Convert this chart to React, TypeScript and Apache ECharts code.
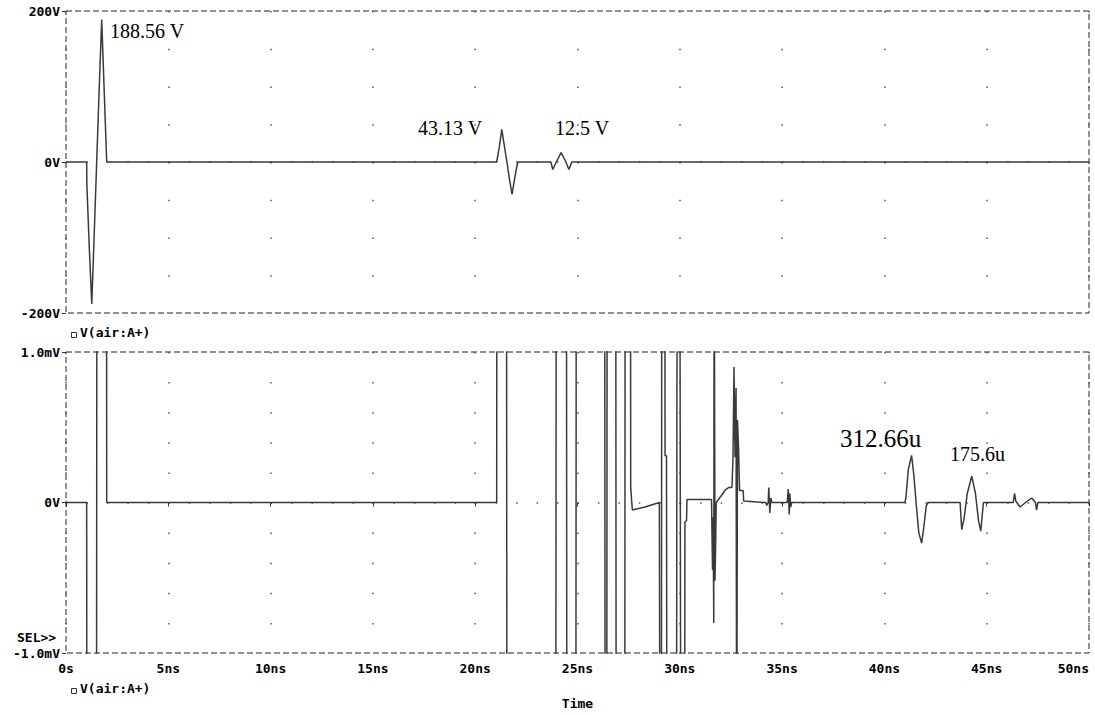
import React, { useEffect, useRef } from 'react';
import * as echarts from 'echarts';

// ---------- data ----------
// Upper plot: V(air:A+) in volts
const topTimeNs = [0, 1.01, 1.02, 1.14, 1.26, 1.38, 1.5, 1.62, 1.745, 1.87, 1.99,
  21.05, 21.18, 21.3, 21.42, 21.55, 21.67, 21.8, 21.94, 22.08,
  23.7, 23.79, 24.0, 24.2, 24.4, 24.58, 24.72, 50];
const topVolts = [0, 0, -30, -115, -188, -95, 0, 95, 188.56, 92, 0,
  0, 20, 43.13, 22, 0, -22, -43, -20, 0,
  0, -10, 2, 12.5, 2, -10, 0, 0];

// Lower plot: V(air:A+) in millivolts (values beyond +-1 mV run off the plot)
const bottomTimeNs = [0, 1.01, 1.02, 1.49, 1.51, 1.98, 1.99,
  21.05, 21.06, 21.53, 21.55, 23.94, 23.96, 24.46, 24.48, 24.92, 24.94,
  26.33, 26.35, 26.43, 26.45, 26.87, 26.89, 27.31, 27.33, 27.59, 27.6, 27.68, 28.3, 29.0,
  29.03, 29.1, 29.12, 29.27, 29.28, 29.35, 29.37, 29.84, 29.86, 29.9, 30.0, 30.05,
  30.24, 30.25, 30.33, 30.35, 31.55, 31.6, 31.63, 31.66, 31.68, 31.72, 31.75, 31.78,
  32.0, 32.2, 32.4, 32.55, 32.6, 32.65, 32.7, 32.75, 32.78, 32.82, 32.87, 32.92, 33.1, 33.12,
  34.2, 34.25, 34.32, 34.35, 34.4, 34.45, 34.5,
  35.25, 35.3, 35.35, 35.38, 35.42, 35.47,
  41.0, 41.05, 41.17, 41.33, 41.44, 41.55, 41.68, 41.82, 41.92, 42.05, 42.14,
  43.7, 43.78, 43.9, 44.05, 44.27, 44.45, 44.6, 44.71, 44.84,
  46.3, 46.36, 46.42, 46.63, 46.9, 47.2, 47.38, 47.44, 47.5, 50];
const bottomMilliVolts = [0, 0, -2, -2, 2, 2, 0,
  0, 2, 2, -2, -2, 2, 2, -2, -2, 2,
  2, -2, -2, 2, 2, -2, -2, 2, 2, 0.1, -0.05, -0.03, 0.0,
  -2, -2, 2, 2, 0.31, 0.31, -2, -2, 0.8, 2, 2, -2,
  -2, -0.13, -0.12, 0.02, 0.02, -0.45, -0.1, -0.8, 2, -0.52, -0.3, 0.0,
  0.04, 0.08, 0.1, 0.1, 0.3, 0.9, 0.3, 0.76, -2, 0.55, 0.37, 0.08, 0.08, 0.01,
  0.0, -0.02, 0.0, 0.1, -0.07, 0.03, 0.0,
  0.0, 0.09, -0.08, 0.06, -0.03, 0.0,
  0, 0.03, 0.22, 0.3127, 0.18, 0.0, -0.2, -0.27, -0.17, -0.02, 0,
  0, -0.18, -0.1, 0.06, 0.1756, 0.06, -0.12, -0.19, 0,
  0, 0.06, 0.01, -0.03, 0.0, 0.03, 0.0, -0.05, 0, 0];

const timeTickLabels = ['0s', '5ns', '10ns', '15ns', '20ns', '25ns', '30ns', '35ns', '40ns', '45ns', '50ns'];
const topTickLabels = ['-200V', '0V', '200V'];
const bottomTickLabels = ['-1.0mV', '0V', '1.0mV'];
const traceName = 'V(air:A+)';
const annotations = ['188.56 V', '43.13 V', '12.5 V', '312.66u', '175.6u'];

const MONO = "'DejaVu Sans Mono', monospace";
const SERIF = "'Liberation Serif', 'Times New Roman', serif";
const monoText = { fontFamily: MONO, fontWeight: 'bold' as const, fontSize: 13, color: '#000' };

export default function App() {
  const ref = useRef<HTMLDivElement>(null);
  useEffect(() => {
    if (!ref.current) return;
    const chart = echarts.init(ref.current, undefined, { renderer: 'svg' });
    const topData = topTimeNs.map((t, i) => [t, topVolts[i]]);
    const bottomData = bottomTimeNs.map((t, i) => [t, bottomMilliVolts[i]]);
    const gridCommon = {
      left: 66, width: 1023, show: true, borderColor: '#222', borderWidth: 1, borderType: [6, 3],
      backgroundColor: 'transparent', containLabel: false, outerBoundsMode: 'none',
    };
    const dotColor = '#555';
    const xAxisBase = {
      type: 'value', min: 0, max: 50, interval: 5,
      axisLine: { show: false },
    };
    const option: any = {
      animation: false,
      backgroundColor: '#fff',
      grid: [
        { ...gridCommon, top: 11, height: 302 },
        { ...gridCommon, top: 352, height: 301 },
      ],
      xAxis: [
        {
          ...xAxisBase, gridIndex: 0,
          axisTick: { show: false }, axisLabel: { show: false },
          splitLine: { show: true, lineStyle: { color: dotColor, width: 1.5, type: [1.5, 36.25] } },
        },
        {
          ...xAxisBase, gridIndex: 1,
          axisTick: { show: true, length: 4, lineStyle: { color: '#333' } },
          axisLabel: {
            ...monoText, margin: 9, alignMaxLabel: 'right',
            formatter: (v: number) => timeTickLabels[Math.round(v / 5)],
          },
          splitLine: { show: true, lineStyle: { color: dotColor, width: 1.5, type: [1.5, 28.6] } },
          name: 'Time', nameLocation: 'middle', nameGap: 44,
          nameTextStyle: { ...monoText },
        },
      ],
      yAxis: [
        {
          type: 'value', gridIndex: 0, min: -200, max: 200, interval: 200,
          axisLine: { show: false },
          axisTick: { show: true, length: 4, lineStyle: { color: '#333' } },
          axisLabel: { ...monoText, margin: 6, formatter: (v: number) => topTickLabels[Math.round(v / 200) + 1] },
          splitLine: { show: false },
        },
        {
          type: 'value', gridIndex: 1, min: -1, max: 1, interval: 1,
          axisLine: { show: false },
          axisTick: { show: true, length: 4, lineStyle: { color: '#333' } },
          axisLabel: { ...monoText, margin: 6, formatter: (v: number) => bottomTickLabels[Math.round(v) + 1] },
          splitLine: { show: false },
        },
      ],
      series: [
        {
          name: traceName, type: 'line', xAxisIndex: 0, yAxisIndex: 0,
          data: topData, showSymbol: false, clip: true,
          lineStyle: { color: '#3a3a3a', width: 1.5 },
          markLine: {
            silent: true, symbol: ['none', 'none'], label: { show: false }, z: 1,
            lineStyle: { color: dotColor, width: 1.5, type: [1.5, 18.96] },
            data: [{ yAxis: 0 }],
          },
        },
        {
          name: traceName, type: 'line', xAxisIndex: 1, yAxisIndex: 1,
          data: bottomData, showSymbol: false, clip: true,
          lineStyle: { color: '#3a3a3a', width: 1.5 },
          markLine: {
            silent: true, symbol: ['none', 'none'], label: { show: false }, z: 1,
            lineStyle: { color: dotColor, width: 1.5, type: [1.5, 18.96] },
            data: [{ yAxis: 0 }],
          },
        },
      ],
      graphic: [
        { type: 'text', left: 110, top: 21, style: { text: annotations[0], font: `20px ${SERIF}`, fill: '#000' } },
        { type: 'text', left: 418, top: 118, style: { text: annotations[1], font: `20px ${SERIF}`, fill: '#000' } },
        { type: 'text', left: 555, top: 118, style: { text: annotations[2], font: `20px ${SERIF}`, fill: '#000' } },
        { type: 'text', left: 840, top: 426, style: { text: annotations[3], font: `25px ${SERIF}`, fill: '#000' } },
        { type: 'text', left: 950, top: 444, style: { text: annotations[4], font: `20px ${SERIF}`, fill: '#000' } },
        { type: 'rect', left: 69, top: 330, shape: { width: 5, height: 5 }, style: { fill: 'none', stroke: '#333', lineWidth: 1 } },
        { type: 'text', left: 80, top: 326, style: { text: traceName, font: `bold 13px ${MONO}`, fill: '#000' } },
        { type: 'rect', left: 69, top: 686, shape: { width: 5, height: 5 }, style: { fill: 'none', stroke: '#333', lineWidth: 1 } },
        { type: 'text', left: 80, top: 682, style: { text: traceName, font: `bold 13px ${MONO}`, fill: '#000' } },
        { type: 'text', left: 17, top: 631, style: { text: 'SEL>>', font: `bold 13px ${MONO}`, fill: '#000' } },
      ],
    };
    chart.setOption(option);
    return () => chart.dispose();
  }, []);
  return <div ref={ref} style={{ position: 'fixed', left: 0, top: 0, width: 1095, height: 715, background: '#fff' }} />;
}
